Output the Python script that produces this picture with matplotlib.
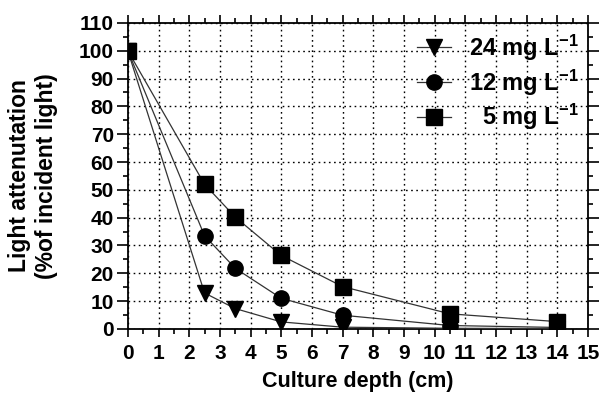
import numpy as np
import matplotlib
matplotlib.use('Agg')
import matplotlib.pyplot as plt
from matplotlib.ticker import MultipleLocator

plt.rcParams['font.family'] = 'Liberation Sans'
plt.rcParams['font.weight'] = 'bold'
plt.rcParams['mathtext.fontset'] = 'custom'
plt.rcParams['mathtext.rm'] = 'Liberation Sans:bold'
plt.rcParams['mathtext.default'] = 'rm'

# culture depth (cm) and light attenuation (% of incident light)
depth = [0, 2.5, 3.5, 5, 7, 10.5, 14]
att_24 = [100, 12.9, 7.3, 2.5, 0.6, 0.2, 0.1]
att_12 = [100, 33.5, 21.8, 11.0, 4.9, 1.2, 0.5]
att_5 = [100, 52.0, 40.2, 26.4, 15.2, 5.4, 2.6]

# two spaces pad the single-digit label to line up with the others
labels = ['24 mg L$^{-1}$', '12 mg L$^{-1}$', '  5 mg L$^{-1}$']
markers = ['v', 'o', 's']
series = [att_24, att_12, att_5]

fig = plt.figure(figsize=(6.03, 4.03), dpi=100)
ax = fig.add_axes([0.212, 0.184, 0.763, 0.759])

for y, m, lab in zip(series, markers, labels):
    ax.plot(depth, y, color='#333333', lw=0.9, marker=m, ms=11 if m != 'v' else 12,
            mfc='black', mec='black', label=lab, zorder=3)

ax.set_xlim(0, 15)
ax.set_ylim(0, 110)
ax.xaxis.set_major_locator(MultipleLocator(1))
ax.xaxis.set_minor_locator(MultipleLocator(0.5))
ax.yaxis.set_major_locator(MultipleLocator(10))
ax.yaxis.set_minor_locator(MultipleLocator(5))
ax.tick_params(which='both', direction='out', top=True, right=True,
               labeltop=False, labelright=False, width=1.2, color='black')
ax.tick_params(which='major', labelsize=15)
ax.tick_params(axis='x', which='major', length=6, pad=5)
ax.tick_params(axis='y', which='major', length=8, pad=2)
ax.tick_params(which='minor', length=3.5)
for lbl in ax.get_xticklabels() + ax.get_yticklabels():
    lbl.set_fontweight('bold')
for s in ax.spines.values():
    s.set_linewidth(1.3)

ax.grid(True, which='major', color='black', ls=(0, (1.2, 2.5)), lw=1.0)
ax.set_axisbelow(True)

ax.set_xlabel('Culture depth (cm)', fontsize=15.5, fontweight='bold', labelpad=6)
ax.set_ylabel('Light attenutation\n(%of incident light)', fontsize=16.5,
              fontweight='bold', linespacing=1.2)
ax.yaxis.set_label_coords(-0.152, 0.5)

ax.legend(loc='upper right', frameon=False, fontsize=17, handlelength=1.45,
          handletextpad=0.75, labelspacing=0.2, borderaxespad=0.2,
          borderpad=0.2, bbox_to_anchor=(1.0, 1.0))

fig.savefig('out.png', dpi=100)
